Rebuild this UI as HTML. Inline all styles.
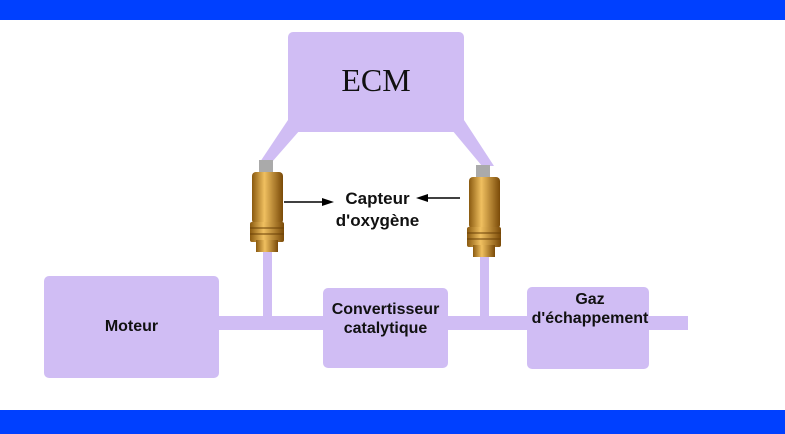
<!DOCTYPE html>
<html><head><style>
body{margin:0;width:785px;height:434px;background:#fff;position:relative;overflow:hidden;font-family:"Liberation Sans",Arial,sans-serif}
.b{position:absolute;background:#d0bdf4;border-radius:5px}
.t{position:absolute;font-weight:bold;color:#111;text-align:center;font-size:16px;line-height:19px}
</style></head><body>
<div style="position:absolute;left:0;top:0;width:785px;height:20px;background:#0040ff"></div>
<div style="position:absolute;left:0;top:410px;width:785px;height:24px;background:#0040ff"></div>
<svg width="785" height="434" style="position:absolute;left:0;top:0">
<defs><linearGradient id="g" x1="0" x2="1"><stop offset="0" stop-color="#8a5a10"/><stop offset="0.4" stop-color="#f0c060"/><stop offset="1" stop-color="#7a4a08"/></linearGradient></defs>
<polygon points="288,120 300,130 272,162 260,162" fill="#d0bdf4"/>
<polygon points="464,120 452,130 482,166 494,166" fill="#d0bdf4"/>
<rect x="263" y="250" width="9" height="70" fill="#d0bdf4"/>
<rect x="480" y="255" width="9" height="65" fill="#d0bdf4"/>
<rect x="219" y="316" width="469" height="14" fill="#d0bdf4"/>
<g>
<rect x="259" y="160" width="14" height="14" fill="#aaa"/>
<rect x="252" y="172" width="31" height="52" rx="4" fill="url(#g)"/>
<rect x="250" y="222" width="34" height="20" rx="2" fill="url(#g)"/>
<rect x="256" y="240" width="22" height="12" fill="url(#g)"/>
<line x1="250" y1="228" x2="284" y2="228" stroke="#6a4006"/>
<line x1="250" y1="234" x2="284" y2="234" stroke="#6a4006"/>
</g>
<g transform="translate(217,5)">
<rect x="259" y="160" width="14" height="14" fill="#aaa"/>
<rect x="252" y="172" width="31" height="52" rx="4" fill="url(#g)"/>
<rect x="250" y="222" width="34" height="20" rx="2" fill="url(#g)"/>
<rect x="256" y="240" width="22" height="12" fill="url(#g)"/>
<line x1="250" y1="228" x2="284" y2="228" stroke="#6a4006"/>
<line x1="250" y1="234" x2="284" y2="234" stroke="#6a4006"/>
</g>
<line x1="284" y1="202" x2="326" y2="202" stroke="#000" stroke-width="1.5"/>
<polygon points="334,202 322,198 322,206" fill="#000"/>
<line x1="460" y1="198" x2="424" y2="198" stroke="#000" stroke-width="1.5"/>
<polygon points="416,198 428,194 428,202" fill="#000"/>
</svg>
<div class="b" style="left:288px;top:32px;width:176px;height:100px"></div>
<div class="t" style="left:288px;top:62px;width:176px;font-family:'Liberation Serif',serif;font-weight:normal;font-size:32px;line-height:36px">ECM</div>
<div class="t" style="left:320px;top:188px;width:115px;font-size:17px;line-height:22px">Capteur<br>d'oxygène</div>
<div class="b" style="left:44px;top:276px;width:175px;height:102px"></div>
<div class="t" style="left:44px;top:317px;width:175px">Moteur</div>
<div class="b" style="left:323px;top:288px;width:125px;height:80px"></div>
<div class="t" style="left:315px;top:300px;width:141px">Convertisseur<br>catalytique</div>
<div class="b" style="left:527px;top:287px;width:122px;height:82px"></div>
<svg width="785" height="434" style="position:absolute;left:0;top:0"><rect x="649" y="316" width="39" height="14" fill="#d0bdf4"/></svg>
<div class="t" style="left:510px;top:290px;width:160px">Gaz<br>d'échappement</div>
</body></html>
